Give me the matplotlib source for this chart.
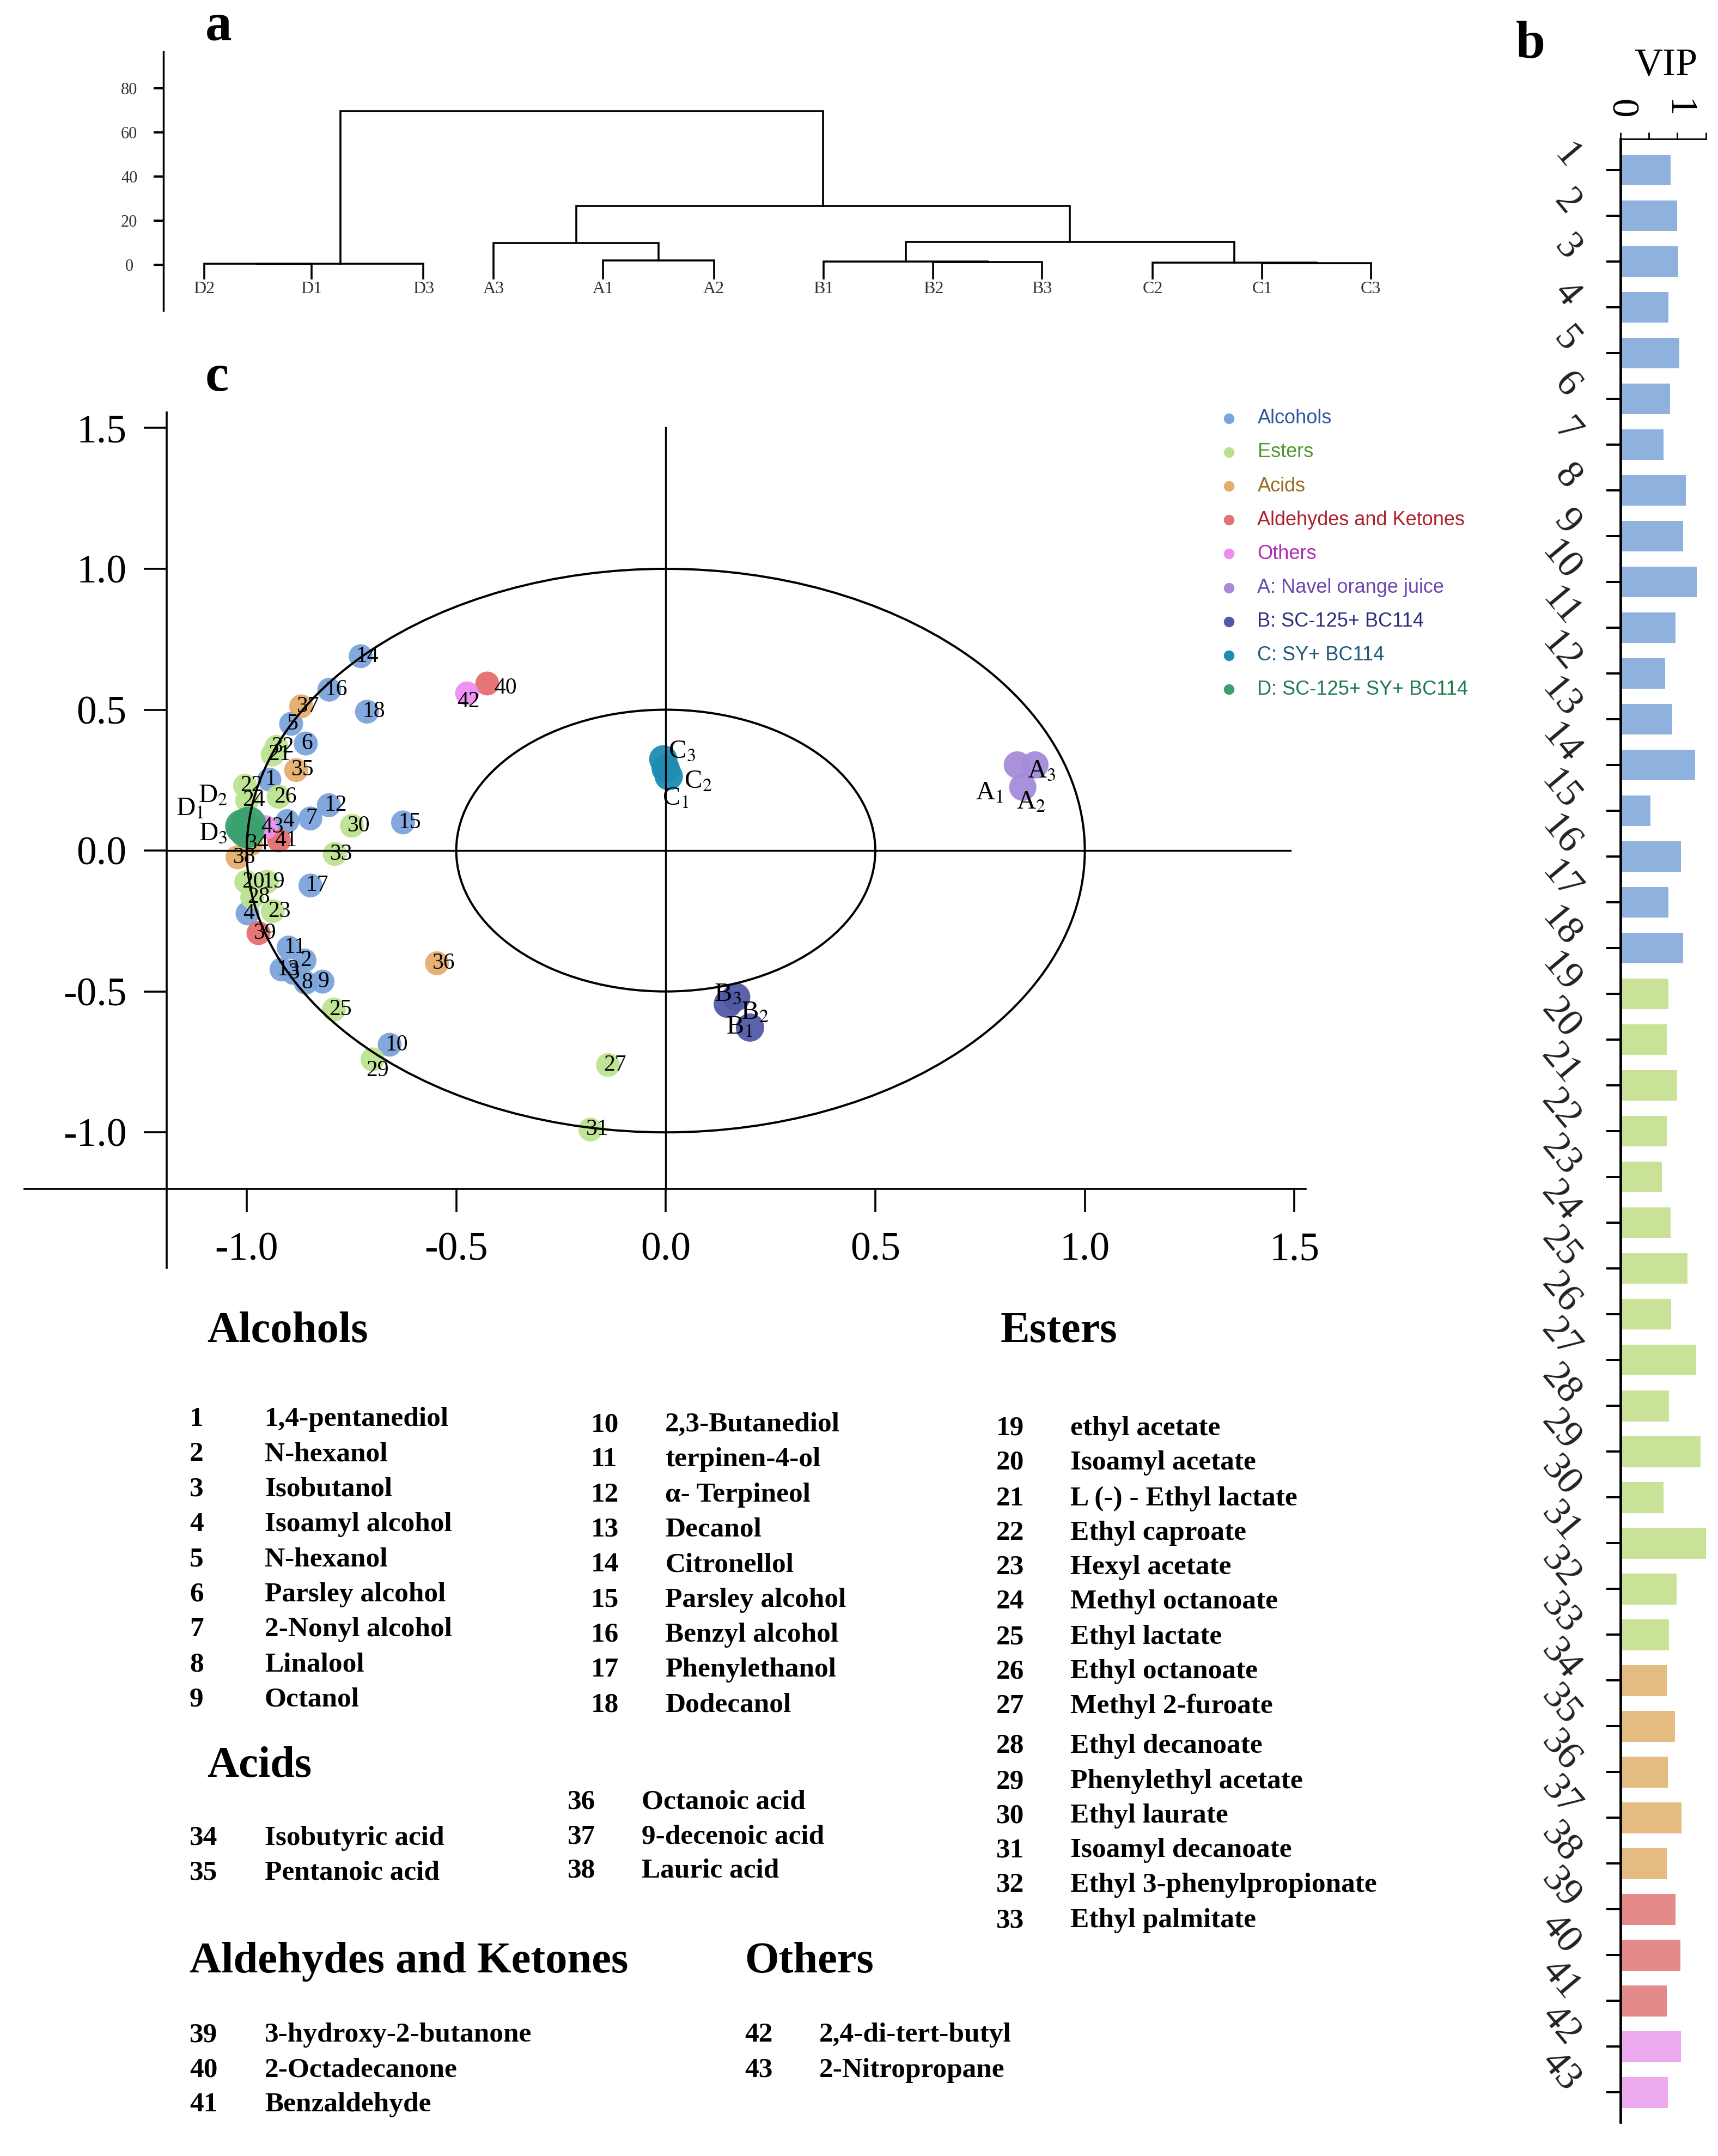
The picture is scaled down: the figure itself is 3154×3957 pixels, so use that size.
import numpy as np
import matplotlib
matplotlib.use("Agg")
import matplotlib.pyplot as plt
from matplotlib.patches import Ellipse
from matplotlib.lines import Line2D
from matplotlib.transforms import ScaledTranslation

plt.rcParams['font.family'] = ['Liberation Serif', 'DejaVu Serif']
plt.rcParams['mathtext.fontset'] = 'stix'
plt.rcParams['axes.unicode_minus'] = False

W, H = 3154, 3957  # output size in pixels (dpi 100)

# ---------------- panel a: dendrogram ----------------
leaf_names = ['D2', 'D1', 'D3', 'A3', 'A1', 'A2', 'B1', 'B2', 'B3', 'C2', 'C1', 'C3']
leaf_pos = [0.0, 0.98, 2.0, 2.64, 3.64, 4.65, 5.65, 6.65, 7.64, 8.65, 9.65, 10.64]
# (node, node, height); nodes 0-11 are leaves, 12+ are earlier merges
merges = [
    (0, 1, 0.3), (12, 2, 0.5),
    (4, 5, 1.8), (3, 14, 9.8),
    (7, 8, 1.2), (6, 16, 1.5),
    (10, 11, 0.6), (9, 18, 1.0),
    (17, 19, 10.3), (15, 20, 26.7),
    (13, 21, 69.6),
]

# ---------------- panel b: VIP ----------------
vip_values = [0.88, 1.00, 1.02, 0.84, 1.03, 0.87, 0.76, 1.15, 1.10, 1.34,
              0.97, 0.79, 0.91, 1.31, 0.53, 1.06, 0.84, 1.10, 0.84, 0.81,
              1.00, 0.81, 0.73, 0.88, 1.18, 0.89, 1.33, 0.85, 1.41, 0.76,
              1.50, 0.99, 0.85, 0.81, 0.96, 0.83, 1.07, 0.81, 0.97, 1.05,
              0.81, 1.06, 0.83]
vip_groups = ['Alcohols'] * 18 + ['Esters'] * 15 + ['Acids'] * 5 + \
             ['Aldehydes and Ketones'] * 3 + ['Others'] * 2

# ---------------- panel c: loadings / scores ----------------
alcohol_ids = [str(i) for i in range(1, 19)] + ['4']
alcohol_x = [-0.946, -0.862, -0.889, -0.903, -0.894, -0.859, -0.848, -0.859, -0.819, -0.659,
             -0.900, -0.804, -0.917, -0.728, -0.627, -0.803, -0.848, -0.713, -0.998]
alcohol_y = [0.252, -0.390, -0.434, 0.105, 0.450, 0.380, 0.114, -0.469, -0.465, -0.689,
             -0.344, 0.161, -0.422, 0.690, 0.100, 0.571, -0.124, 0.493, -0.223]

ester_ids = [str(i) for i in range(19, 34)]
ester_x = [-0.952, -1.001, -0.938, -1.004, -0.938, -0.999, -0.792, -0.924, -0.138, -0.987,
           -0.700, -0.749, -0.180, -0.929, -0.790]
ester_y = [-0.111, -0.111, 0.341, 0.230, -0.215, 0.178, -0.564, 0.191, -0.761, -0.166,
           -0.741, 0.088, -0.990, 0.368, -0.012]

acid_ids = ['34', '35', '36', '37', '38']
acid_x = [-0.990, -0.882, -0.546, -0.870, -1.022]
acid_y = [0.023, 0.286, -0.400, 0.512, -0.024]

ald_ids = ['39', '40', '41']
ald_x = [-0.972, -0.426, -0.923]
ald_y = [-0.293, 0.593, 0.036]

other_ids = ['42', '43']
other_x = [-0.474, -0.955]
other_y = [0.558, 0.083]

sample_A_x = [0.839, 0.852, 0.881]
sample_A_y = [0.304, 0.225, 0.304]
sample_B_x = [0.201, 0.168, 0.148]
sample_B_y = [-0.628, -0.520, -0.544]
sample_C_x = [0.007, 0.000, -0.006]
sample_C_y = [0.264, 0.290, 0.324]
sample_D_x = [-1.010, -0.995, -1.000]
sample_D_y = [0.085, 0.095, 0.070]

# ---------------- compound tables ----------------
alcohol_names = ['1,4-pentanediol', 'N-hexanol', 'Isobutanol', 'Isoamyl alcohol', 'N-hexanol',
                 'Parsley alcohol', '2-Nonyl alcohol', 'Linalool', 'Octanol', '2,3-Butanediol',
                 'terpinen-4-ol', 'α- Terpineol', 'Decanol', 'Citronellol', 'Parsley alcohol',
                 'Benzyl alcohol', 'Phenylethanol', 'Dodecanol']
ester_names = ['ethyl acetate', 'Isoamyl acetate', 'L (-) - Ethyl lactate', 'Ethyl caproate',
               'Hexyl acetate', 'Methyl octanoate', 'Ethyl lactate', 'Ethyl octanoate',
               'Methyl 2-furoate', 'Ethyl decanoate', 'Phenylethyl acetate', 'Ethyl laurate',
               'Isoamyl decanoate', 'Ethyl 3-phenylpropionate', 'Ethyl palmitate']
acid_names = ['Isobutyric acid', 'Pentanoic acid', 'Octanoic acid', '9-decenoic acid', 'Lauric acid']
ald_names = ['3-hydroxy-2-butanone', '2-Octadecanone', 'Benzaldehyde']
other_names = ['2,4-di-tert-butyl', '2-Nitropropane']

# colours
POINT_COLORS = {
    'Alcohols': '#7ba4dc', 'Esters': '#bde38f', 'Acids': '#e5ad6c',
    'Aldehydes and Ketones': '#e56f6f', 'Others': '#ee8ef0',
    'A': '#a58bd9', 'B': '#5159a6', 'C': '#1e8cb3', 'D': '#3aa06f',
}
BAR_COLORS = {
    'Alcohols': '#8eb1de', 'Esters': '#c9e298', 'Acids': '#e4bb81',
    'Aldehydes and Ketones': '#e48a8b', 'Others': '#eeaaee',
}
LEGEND = [
    ('Alcohols', '#7ba4dc', '#2f55a0'),
    ('Esters', '#b9e08a', '#4e9a2a'),
    ('Acids', '#e3ac6a', '#9a6a20'),
    ('Aldehydes and Ketones', '#e37272', '#b0202a'),
    ('Others', '#ee8ef0', '#b02ab0'),
    ('A: Navel orange juice', '#a58bd9', '#6a48b0'),
    ('B: SC-125+ BC114', '#5159a6', '#2a2e7a'),
    ('C: SY+ BC114', '#1e8cb3', '#1f5a78'),
    ('D: SC-125+ SY+ BC114', '#3aa06f', '#1e7a4a'),
]


def fx(px):
    return px / W


def fy(py):
    return 1 - py / H


def draw_dendrogram(fig):
    ax = fig.add_axes([fx(299.6), fy(570), (2589 - 299.6) / W, (570 - 94.6) / H])
    ax.set_xlim(-0.373, 11.0)
    ax.set_ylim(-20.9, 96.8)
    leaf_bottom = -6.2
    node_x = list(leaf_pos)
    node_h = [leaf_bottom] * len(leaf_pos)
    for a, b, h in merges:
        xa, xb = node_x[a], node_x[b]
        ax.plot([xa, xa, xb, xb], [node_h[a], h, h, node_h[b]], color='black', lw=2.6,
                solid_joinstyle='miter')
        node_x.append((xa + xb) / 2)
        node_h.append(h)
    for x, name in zip(leaf_pos, leaf_names):
        ax.text(x, -7.6, name, ha='center', va='top', fontsize=23, color='#333333')
    for s in ['top', 'right', 'bottom']:
        ax.spines[s].set_visible(False)
    ax.spines['left'].set_linewidth(2.5)
    ax.set_xticks([])
    ax.set_yticks([0, 20, 40, 60, 80])
    ax.tick_params(axis='y', length=13, width=3, pad=32, labelsize=22, labelcolor='#333333')
    for lab in ax.get_yticklabels():
        lab.set_ha('center')


def draw_vip(fig):
    ax = fig.add_axes([fx(2975), fy(3895), 167 / W, (3895 - 254.5) / H])
    pos = np.arange(1, len(vip_values) + 1)
    ax.barh(pos, vip_values, height=0.67, color=[BAR_COLORS[g] for g in vip_groups], zorder=2)
    ax.set_xlim(0, 1.6)
    ax.set_ylim(43.65, 0.312)
    ax.spines['right'].set_visible(False)
    ax.spines['bottom'].set_visible(False)
    ax.spines['left'].set_linewidth(3.4)
    ax.spines['left'].set_zorder(3)
    ax.spines['top'].set_linewidth(2.0)
    ax.spines['top'].set_bounds(0, 1.5)
    ax.xaxis.tick_top()
    ax.set_xticks([0, 0.5, 1, 1.5])
    ax.set_xticklabels(['0', '', '1', ''])
    ax.tick_params(axis='x', direction='out', length=9, width=2, pad=18, labelsize=50,
                   labelrotation=-90)
    ax.set_yticks(pos)
    ax.set_yticklabels([])
    ax.tick_params(axis='y', direction='out', length=19, width=2.9)
    off = ScaledTranslation(-0.62, -0.10, fig.dpi_scale_trans)
    for p in pos:
        ax.text(0, p, str(p), transform=ax.get_yaxis_transform() + off, rotation=-50,
                ha='right', va='bottom', fontsize=52, color='#222222')
    fig.text(fx(3058), fy(120), 'VIP', ha='center', va='center', fontsize=52)


def draw_scatter(fig):
    left, right, top, bottom = 306, 2397, 757, 2182
    ax = fig.add_axes([fx(left), fy(bottom), (right - left) / W, (bottom - top) / H])
    ax.set_xlim(-1.191, 1.527)
    ax.set_ylim(-1.2007, 1.555)
    for s in ax.spines.values():
        s.set_visible(False)

    ticks = [-1.0, -0.5, 0.0, 0.5, 1.0, 1.5]
    ax.set_xticks(ticks)
    ax.set_yticks(ticks)
    ax.set_xticklabels(['%.1f' % t for t in ticks])
    ax.set_yticklabels(['%.1f' % t for t in ticks])
    ax.tick_params(axis='x', direction='out', length=30, width=2.6, pad=27, labelsize=53)
    ax.tick_params(axis='y', direction='out', length=30, width=2.6, pad=23, labelsize=53)

    # axis frame that runs past the corner
    ax.plot([0, 0], [-0.1018, 1], transform=ax.transAxes, color='black', lw=2.6, clip_on=False)
    ax.plot([-0.1248, 1], [0, 0], transform=ax.transAxes, color='black', lw=2.6, clip_on=False)

    groups = [
        ('Alcohols', alcohol_ids, alcohol_x, alcohol_y),
        ('Esters', ester_ids, ester_x, ester_y),
        ('Acids', acid_ids, acid_x, acid_y),
        ('Aldehydes and Ketones', ald_ids, ald_x, ald_y),
        ('Others', other_ids, other_x, other_y),
    ]
    for name, ids, xs, ys in groups:
        ax.scatter(xs, ys, s=1000, color=POINT_COLORS[name], edgecolors='none', alpha=0.95,
                   zorder=2)

    samples = [('A', sample_A_x, sample_A_y, 1300), ('B', sample_B_x, sample_B_y, 1400),
               ('C', sample_C_x, sample_C_y, 1400), ('D', sample_D_x, sample_D_y, 2100)]
    for key, xs, ys, size in samples:
        ax.scatter(xs, ys, s=size, color=POINT_COLORS[key], edgecolors='none', alpha=0.95,
                   zorder=2)

    # correlation ellipses and cross lines
    for r in [1.0, 0.5]:
        ax.add_patch(Ellipse((0, 0), 2 * r, 2 * r, fill=False, lw=2.9, color='black', zorder=3))
    ax.plot([0, 0], [-1.2007, 1.50], color='black', lw=2.4, zorder=3)
    ax.plot([-1.191, 1.49], [0, 0], color='black', lw=2.4, zorder=3)

    # number labels
    special = {'40': (9, -6, 'left'), '42': (1.5, -11, 'center'), '29': (-8, -15, 'left')}
    for name, ids, xs, ys in groups:
        for i, x, y in zip(ids, xs, ys):
            dx, dy, ha = special.get(i, (-6, 0, 'left'))
            ax.annotate(i, (x, y), xytext=(dx, dy), textcoords='offset points', ha=ha,
                        va='center', fontsize=30, zorder=5)

    label_pos = {
        'A': [(0.773, 0.205), (0.872, 0.171), (0.897, 0.284)],
        'B': [(0.176, -0.628), (0.213, -0.574), (0.148, -0.510)],
        'C': [(0.023, 0.185), (0.077, 0.245), (0.039, 0.353)],
        'D': [(-1.135, 0.148), (-1.08, 0.195), (-1.08, 0.061)],
    }
    for key, spots in label_pos.items():
        for k, (x, y) in enumerate(spots):
            ax.text(x, y, key + r'$_{%d}$' % (k + 1), ha='center', va='center', fontsize=35,
                    zorder=5)

    # legend
    for k, (lab, dot, txt) in enumerate(LEGEND):
        yy = 767.6 + 62.2 * k
        fig.add_artist(Line2D([fx(2256)], [fy(yy)], marker='o', ms=13, color=dot, lw=0,
                              transform=fig.transFigure))
        fig.text(fx(2308.5), fy(yy), lab, ha='left', va='center', fontsize=26, color=txt,
                 family=['Liberation Sans', 'DejaVu Sans'])


def draw_tables(fig):
    head = dict(fontsize=58, fontweight='bold', va='baseline', ha='left')
    item = dict(fontsize=37, fontweight='bold', va='baseline', ha='left')

    def block(ids, names, num_x, name_x, baselines):
        for i, n, b in zip(ids, names, baselines):
            fig.text(fx(num_x), fy(b), str(i), **item)
            fig.text(fx(name_x), fy(b), n, **item)

    fig.text(fx(380), fy(2463), 'Alcohols', **head)
    block(range(1, 10), alcohol_names[:9], 348, 486, [2617 + 64.3 * k for k in range(9)])
    block(range(10, 19), alcohol_names[9:], 1085, 1221, [2627 + 64.3 * k for k in range(9)])

    fig.text(fx(380), fy(3261), 'Acids', **head)
    block([34, 35], acid_names[:2], 348, 486, [3386, 3449])
    block([36, 37, 38], acid_names[2:], 1042, 1178, [3320, 3383, 3446])

    fig.text(fx(1837), fy(2463), 'Esters', **head)
    ester_centers = [1038, 1063, 1089, 1114, 1139, 1164, 1190, 1215, 1240, 1269, 1295,
                     1320, 1345, 1370, 1396]
    block(range(19, 34), ester_names, 1829, 1965, [c * 2.523 + 15 for c in ester_centers])

    fig.text(fx(348), fy(3620), 'Aldehydes and Ketones', **head)
    block([39, 40, 41], ald_names, 348, 486, [3747, 3812, 3875])

    fig.text(fx(1367.5), fy(3620), 'Others', **head)
    block([42, 43], other_names, 1367.5, 1504, [3747, 3812])


def main():
    fig = plt.figure(figsize=(W / 100, H / 100), dpi=100)
    draw_dendrogram(fig)
    draw_vip(fig)
    draw_scatter(fig)
    draw_tables(fig)

    panel = dict(fontsize=70, fontweight='bold', ha='center', va='center')
    fig.text(fx(401), fy(50), 'a', **panel)
    fig.text(fx(2810), fy(82), 'b', **panel)
    fig.text(fx(398.6), fy(694), 'c', **panel)

    fig.savefig('out.png', dpi=100)
    plt.close(fig)


if __name__ == '__main__':
    main()
